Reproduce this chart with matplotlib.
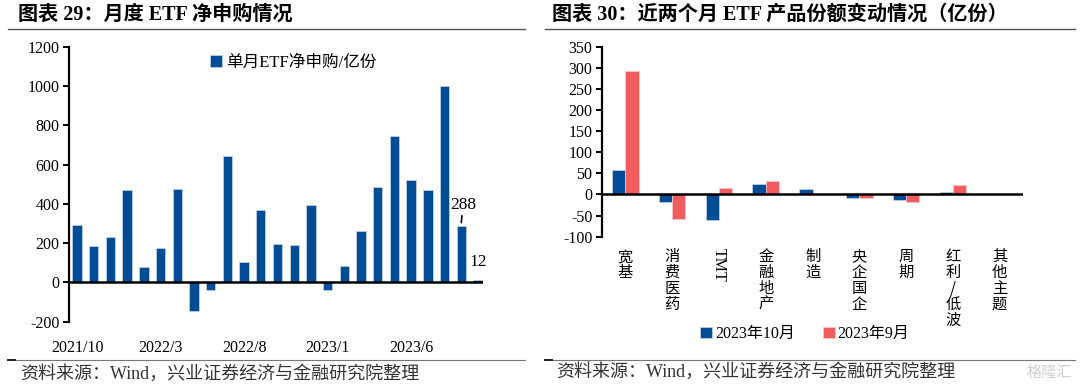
import matplotlib
matplotlib.use("Agg")
import matplotlib.pyplot as plt
import numpy as np

# monthly net creation, 2021/10 - 2023/10 (亿份)
months = ['2021/10', '2021/11', '2021/12', '2022/1', '2022/2', '2022/3', '2022/4', '2022/5',
          '2022/6', '2022/7', '2022/8', '2022/9', '2022/10', '2022/11', '2022/12', '2023/1',
          '2023/2', '2023/3', '2023/4', '2023/5', '2023/6', '2023/7', '2023/8', '2023/9', '2023/10']
net_sub = [293, 186, 230, 473, 79, 175, 476, -143, -36, 646, 104, 371, 196, 191, 396, -36,
           85, 262, 486, 747, 522, 471, 1002, 288, 12]
shown_months = ['2021/10', '2022/3', '2022/8', '2023/1', '2023/6']

# share change by theme
themes = ['宽\n基', '消\n费\n医\n药', 'TMT', '金\n融\n地\n产', '制\n造', '央\n企\n国\n企',
          '周\n期', '红\n利\n/\n低\n波', '其\n他\n主\n题']
oct_vals = [57, -17, -60, 24, 14, -9, -12, 6, 1]
sep_vals = [292, -57, 15, 31, 1, -9, -17, 23, 0.5]

BLUE = '#004c97'
RED = '#ef5d5f'
MIX = ['Liberation Serif', 'Noto Sans CJK SC']
CJK = ['Noto Sans CJK SC', 'Liberation Serif']

plt.rcParams['font.family'] = MIX
plt.rcParams['axes.unicode_minus'] = False

W, H = 1080, 387
fig = plt.figure(figsize=(W / 100, H / 100), dpi=100)


def px_axes(x0, y0, x1, y1):
    return fig.add_axes([x0 / W, 1 - y1 / H, (x1 - x0) / W, (y1 - y0) / H])


def style_axes(ax):
    for s in ['top', 'right', 'bottom']:
        ax.spines[s].set_visible(False)
    ax.spines['left'].set_linewidth(1.6)
    ax.tick_params(axis='y', direction='out', length=4, width=1.4, labelsize=11.5, pad=3)
    ax.tick_params(axis='x', length=0)
    ax.axhline(0, color='black', lw=1.8, zorder=3)


# ---- left chart ----
ax1 = px_axes(69, 47, 483, 321.7)
x = np.arange(len(months))
ax1.bar(x, net_sub, width=0.56, color=BLUE, edgecolor='#c9d6e8', linewidth=0.5, zorder=2,
        label='单月ETF净申购/亿份')
ax1.set_xlim(-0.48, 24.3)
ax1.set_ylim(-200, 1200)
ax1.set_yticks(range(-200, 1201, 200))
ax1.set_xticks([months.index(m) for m in shown_months])
ax1.set_xticklabels(shown_months, fontsize=11.5)
ax1.tick_params(axis='x', pad=13)
style_axes(ax1)
ax1.annotate(str(net_sub[23]), xy=(23, 305), xytext=(23.1, 395), fontsize=12.5,
             ha='center', va='center',
             arrowprops=dict(arrowstyle='-', color='black', lw=1.2, shrinkA=5, shrinkB=0))
ax1.text(24, 105, str(net_sub[24]), fontsize=12.5, ha='center', va='center')
ax1.legend(loc='upper left', bbox_to_anchor=(0.305, 1.025), frameon=False, fontsize=12,
           handlelength=0.7, handleheight=0.7, handletextpad=0.25)

# ---- right chart ----
ax2 = px_axes(602, 46.7, 1023, 236.7)
xc = np.arange(len(themes))
bw = 0.285
ax2.bar(xc - bw / 2, oct_vals, width=bw, color=BLUE, edgecolor='#c9d6e8', linewidth=0.5,
        zorder=2, label='2023年10月')
ax2.bar(xc + bw / 2, sep_vals, width=bw, color=RED, edgecolor='#f8c8c8', linewidth=0.5,
        zorder=2, label='2023年9月')
ax2.set_xlim(-0.5, 8.5)
ax2.set_ylim(-100, 350)
ax2.set_yticks(range(-100, 351, 50))
ax2.set_xticks([])
style_axes(ax2)
for i, t in enumerate(themes):
    if t == 'TMT':
        ax2.text(i, -127, t, rotation=-90, ha='center', va='top', fontsize=11.5,
                 family='Liberation Serif')
    else:
        ax2.text(i, -127, t, ha='center', va='top', fontsize=11, family=CJK, linespacing=0.92)
fig.legend(*ax2.get_legend_handles_labels(), loc='center', bbox_to_anchor=(805 / W, 1 - 334 / H),
           ncol=2, frameon=False, fontsize=11.5, handlelength=0.7, handleheight=0.7,
           handletextpad=0.2, columnspacing=1.8)

# ---- titles, rules, source ----
fig.text(18 / W, 1 - 15 / H, '图表 29：月度 ETF 净申购情况', fontsize=14.5, fontweight='bold',
         va='center', ha='left')
fig.text(552 / W, 1 - 15 / H, '图表 30：近两个月 ETF 产品份额变动情况（亿份）', fontsize=14.5,
         fontweight='bold', va='center', ha='left')
for x0, x1 in [(8, 525), (545, 1075)]:
    fig.add_artist(plt.Line2D([x0 / W, x1 / W], [1 - 29 / H, 1 - 29 / H], color='#555555', lw=1))
    fig.add_artist(plt.Line2D([x0 / W, x1 / W], [1 - 360 / H, 1 - 360 / H], color='#777777', lw=0.8))
    fig.add_artist(plt.Line2D([x0 / W, (x0 + 7) / W], [1 - 360 / H, 1 - 360 / H], color='#222222', lw=1.4))
src = '资料来源：Wind，兴业证券经济与金融研究院整理'
fig.text(20 / W, 1 - 374 / H, src, fontsize=13, va='center', ha='left', color='#333333')
fig.text(556 / W, 1 - 372 / H, src, fontsize=13, va='center', ha='left', color='#333333')
fig.text(1072 / W, 1 - 372 / H, '格隆汇', fontsize=11, va='center', ha='right', color='#d0d0d0',
         family=CJK)

fig.savefig('out.png', dpi=100)
